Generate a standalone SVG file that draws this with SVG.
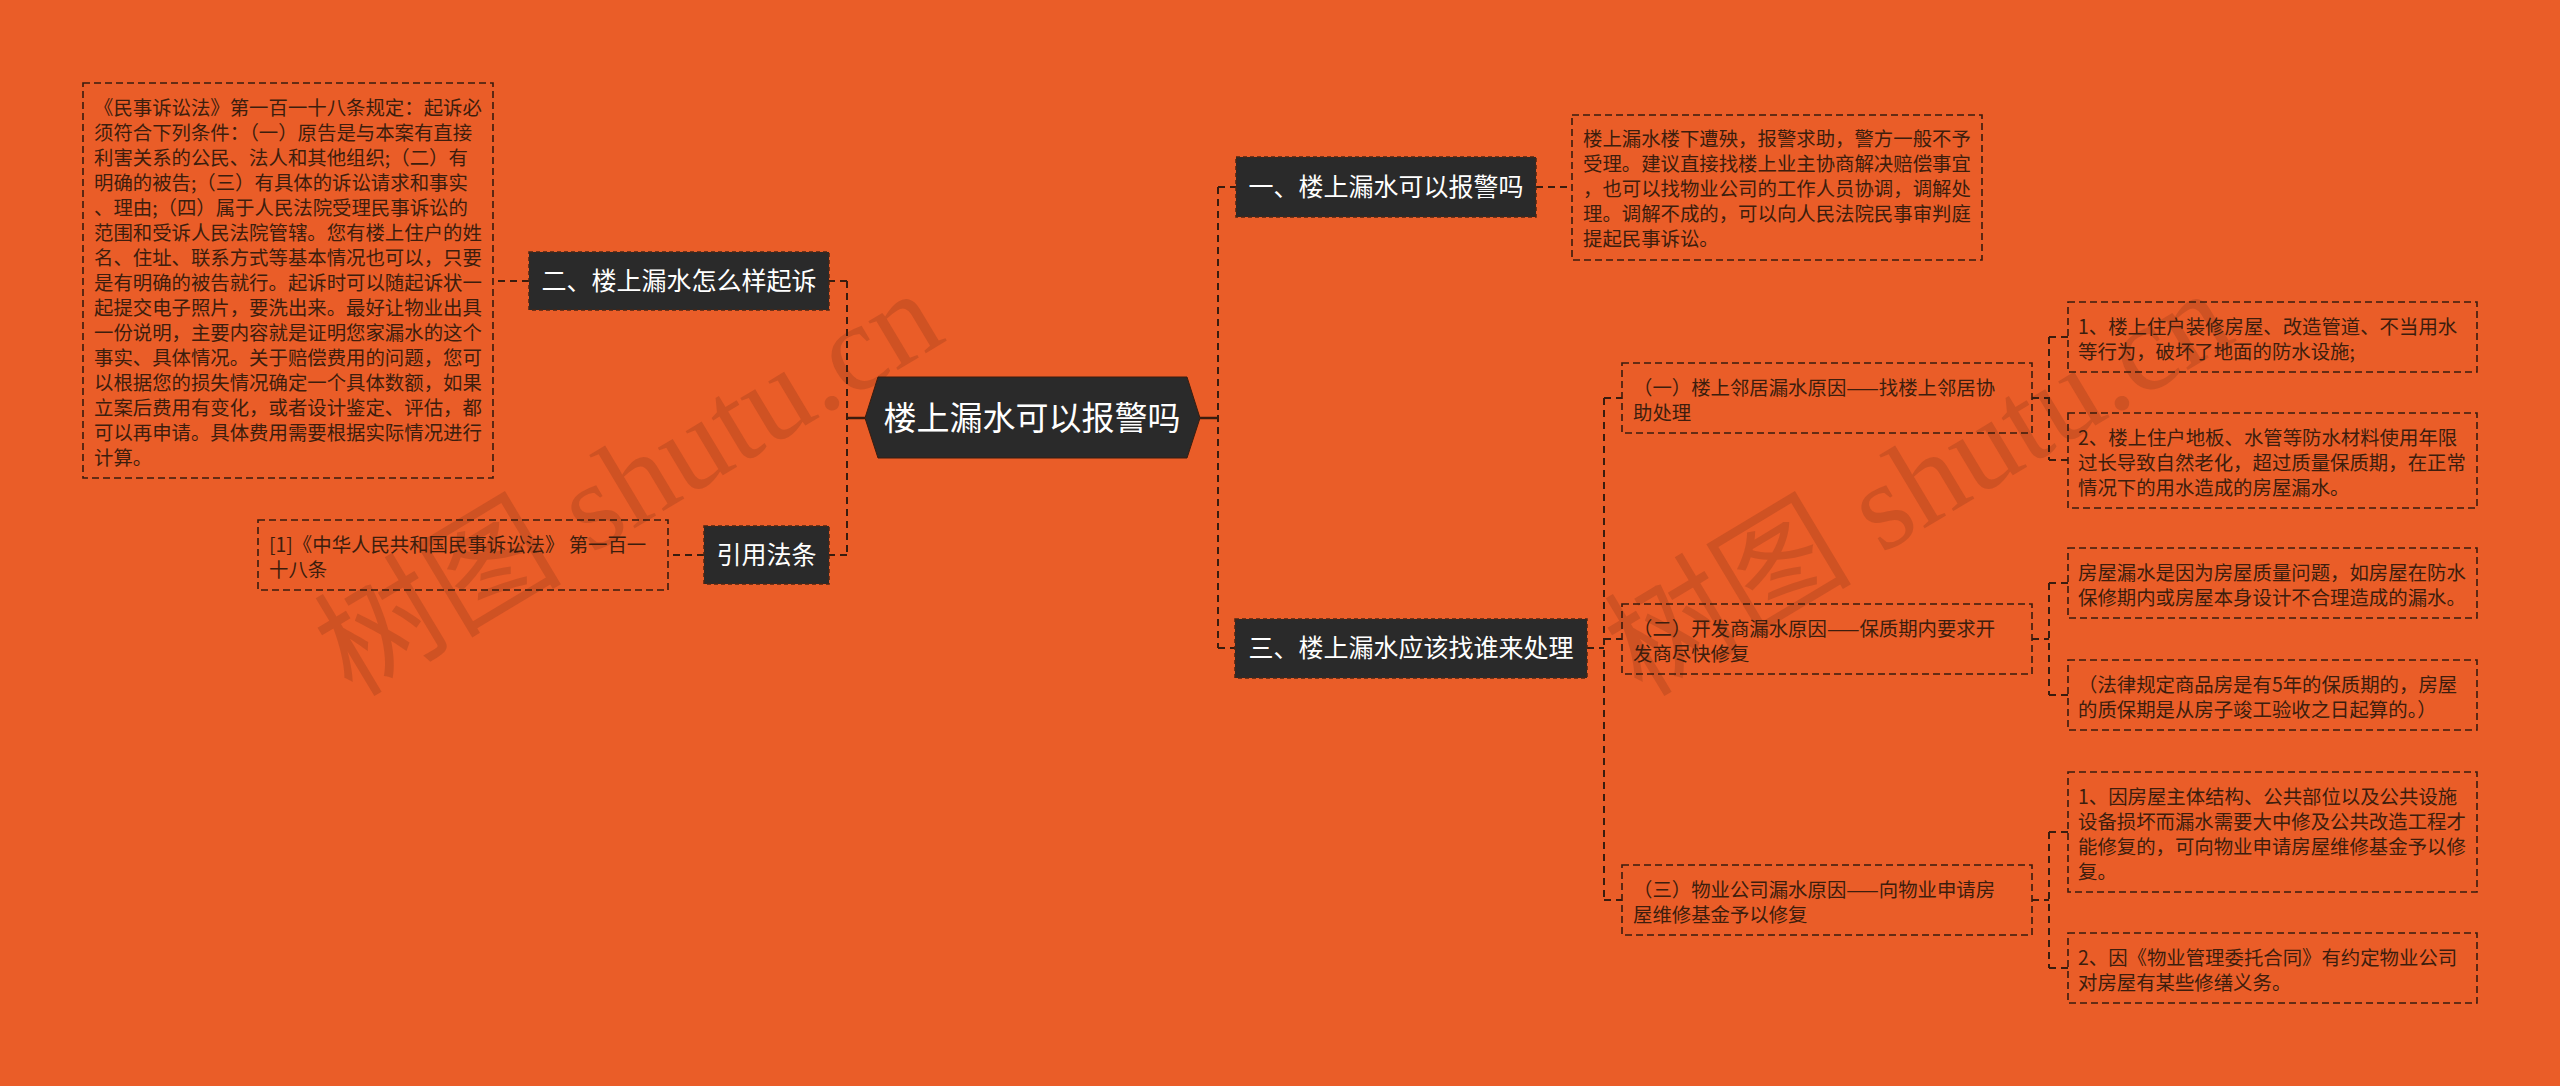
<svg xmlns="http://www.w3.org/2000/svg" width="2560" height="1086" viewBox="0 0 2560 1086">
<style>
.bg{fill:#EA5D28}
.wm{font-family:"Liberation Serif","Noto Sans CJK SC",serif;font-size:124px;fill:#8a3519;fill-opacity:0.28}
.desc rect{fill:none;stroke:#3a1c0e;stroke-width:1.6;stroke-dasharray:7 4}
.desc text{font-family:"Noto Sans CJK SC","Noto Sans",sans-serif;font-size:19.4px;fill:#3d1d0d}
.dark rect{fill:#2a2a2a;stroke:#4a2614;stroke-width:1.5;stroke-dasharray:4 3}
.dark text{font-family:"Noto Sans CJK SC","Noto Sans",sans-serif;font-size:25px;fill:#ffffff;text-anchor:middle}
.root polygon{fill:#2a2a2a;stroke:#3a1c0e;stroke-width:1}
.root text{font-family:"Noto Sans CJK SC","Noto Sans",sans-serif;font-size:33px;fill:#ffffff;text-anchor:middle}
.conn path{fill:none;stroke:#3a1c0e;stroke-width:2;stroke-dasharray:7 5}
.conn path.solid{stroke-dasharray:none;stroke-width:2.5}
</style>
<rect class="bg" x="0" y="0" width="2560" height="1086"/>
<text class="wm" transform="translate(352,698) rotate(-31)">树图 shutu.cn</text>
<text class="wm" transform="translate(1642,698) rotate(-31)">树图 shutu.cn</text>

<g id="connectors" class="conn">
<path class="solid" d="M865 418H847"/>
<path d="M847 281V555M847 281H829M847 555H829"/>
<path d="M529 281H493"/>
<path d="M704 555H668"/>
<path class="solid" d="M1200 418H1218"/>
<path d="M1218 187V648M1218 187H1236M1218 648H1235"/>
<path d="M1536 187H1572"/>
<path d="M1587 648H1604"/>
<path d="M1604 398V900M1604 398H1622M1604 639H1622M1604 900H1622"/>
<path d="M2032 398H2049M2049 337V460M2049 337H2068M2049 460H2068"/>
<path d="M2032 639H2049M2049 583V695M2049 583H2068M2049 695H2068"/>
<path d="M2032 900H2049M2049 832V968M2049 832H2068M2049 968H2068"/>
</g>

<g id="root" class="root">
<polygon points="865,418 878,377 1187,377 1200,418 1187,458 878,458"/>
<text x="1032" y="430">楼上漏水可以报警吗</text>
</g>

<g id="n-er" class="dark">
<rect x="529" y="252" width="300" height="58"/>
<text x="679" y="290">二、楼上漏水怎么样起诉</text>
</g>
<g id="n-er-desc" class="desc">
<rect x="83" y="83" width="410" height="395"/>
<text x="94" y="115">《民事诉讼法》第一百一十八条规定：起诉必</text>
<text x="94" y="140">须符合下列条件：（一）原告是与本案有直接</text>
<text x="94" y="165">利害关系的公民、法人和其他组织;（二）有</text>
<text x="94" y="190">明确的被告;（三）有具体的诉讼请求和事实</text>
<text x="94" y="215">、理由;（四）属于人民法院受理民事诉讼的</text>
<text x="94" y="240">范围和受诉人民法院管辖。您有楼上住户的姓</text>
<text x="94" y="265">名、住址、联系方式等基本情况也可以，只要</text>
<text x="94" y="290">是有明确的被告就行。起诉时可以随起诉状一</text>
<text x="94" y="315">起提交电子照片，要洗出来。最好让物业出具</text>
<text x="94" y="340">一份说明，主要内容就是证明您家漏水的这个</text>
<text x="94" y="365">事实、具体情况。关于赔偿费用的问题，您可</text>
<text x="94" y="390">以根据您的损失情况确定一个具体数额，如果</text>
<text x="94" y="415">立案后费用有变化，或者设计鉴定、评估，都</text>
<text x="94" y="440">可以再申请。具体费用需要根据实际情况进行</text>
<text x="94" y="465">计算。</text>
</g>

<g id="n-yin" class="dark">
<rect x="704" y="526" width="125" height="58"/>
<text x="766.5" y="564">引用法条</text>
</g>
<g id="n-yin-desc" class="desc">
<rect x="258" y="520" width="410" height="70"/>
<text x="269" y="552">[1]《中华人民共和国民事诉讼法》 第一百一</text>
<text x="269" y="577">十八条</text>
</g>

<g id="n-yi" class="dark">
<rect x="1236" y="157" width="300" height="60"/>
<text x="1386" y="196">一、楼上漏水可以报警吗</text>
</g>
<g id="n-yi-desc" class="desc">
<rect x="1572" y="115" width="410" height="145"/>
<text x="1583" y="146">楼上漏水楼下遭殃，报警求助，警方一般不予</text>
<text x="1583" y="171">受理。建议直接找楼上业主协商解决赔偿事宜</text>
<text x="1583" y="196">，也可以找物业公司的工作人员协调，调解处</text>
<text x="1583" y="221">理。调解不成的，可以向人民法院民事审判庭</text>
<text x="1583" y="246">提起民事诉讼。</text>
</g>

<g id="n-san" class="dark">
<rect x="1235" y="619" width="352" height="59"/>
<text x="1411" y="657">三、楼上漏水应该找谁来处理</text>
</g>

<g id="s1" class="desc">
<rect x="1622" y="363" width="410" height="70"/>
<text x="1633" y="395">（一）楼上邻居漏水原因——找楼上邻居协</text>
<text x="1633" y="420">助处理</text>
</g>
<g id="s2" class="desc">
<rect x="1622" y="604" width="410" height="70"/>
<text x="1633" y="636">（二）开发商漏水原因——保质期内要求开</text>
<text x="1633" y="661">发商尽快修复</text>
</g>
<g id="s3" class="desc">
<rect x="1622" y="865" width="410" height="70"/>
<text x="1633" y="897">（三）物业公司漏水原因——向物业申请房</text>
<text x="1633" y="922">屋维修基金予以修复</text>
</g>

<g id="l1a" class="desc">
<rect x="2068" y="302" width="409" height="70"/>
<text x="2078" y="334">1、楼上住户装修房屋、改造管道、不当用水</text>
<text x="2078" y="359">等行为，破坏了地面的防水设施;</text>
</g>
<g id="l1b" class="desc">
<rect x="2068" y="413" width="409" height="95"/>
<text x="2078" y="445">2、楼上住户地板、水管等防水材料使用年限</text>
<text x="2078" y="470">过长导致自然老化，超过质量保质期，在正常</text>
<text x="2078" y="495">情况下的用水造成的房屋漏水。</text>
</g>
<g id="l2a" class="desc">
<rect x="2068" y="548" width="409" height="70"/>
<text x="2078" y="580">房屋漏水是因为房屋质量问题，如房屋在防水</text>
<text x="2078" y="605">保修期内或房屋本身设计不合理造成的漏水。</text>
</g>
<g id="l2b" class="desc">
<rect x="2068" y="660" width="409" height="70"/>
<text x="2078" y="692">（法律规定商品房是有5年的保质期的，房屋</text>
<text x="2078" y="717">的质保期是从房子竣工验收之日起算的。）</text>
</g>
<g id="l3a" class="desc">
<rect x="2068" y="772" width="409" height="120"/>
<text x="2078" y="804">1、因房屋主体结构、公共部位以及公共设施</text>
<text x="2078" y="829">设备损坏而漏水需要大中修及公共改造工程才</text>
<text x="2078" y="854">能修复的，可向物业申请房屋维修基金予以修</text>
<text x="2078" y="879">复。</text>
</g>
<g id="l3b" class="desc">
<rect x="2068" y="933" width="409" height="70"/>
<text x="2078" y="965">2、因《物业管理委托合同》有约定物业公司</text>
<text x="2078" y="990">对房屋有某些修缮义务。</text>
</g>
</svg>
